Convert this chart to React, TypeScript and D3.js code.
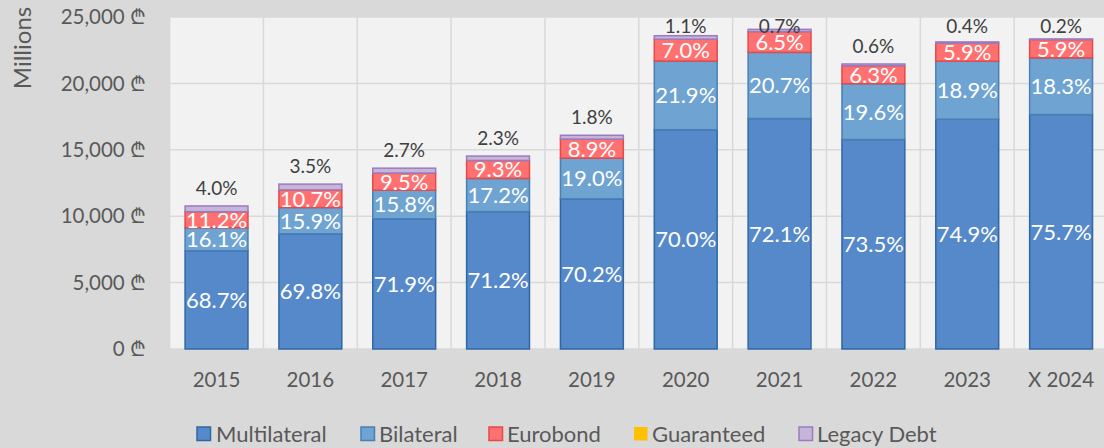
import React from "react";
import * as d3 from "d3";

const categories = ["2015", "2016", "2017", "2018", "2019", "2020", "2021", "2022", "2023", "X 2024"];
const seriesNames = ["Multilateral", "Bilateral", "Eurobond", "Guaranteed", "Legacy Debt"];
const multilateral = [7399, 8676, 9800, 10345, 11309, 16513, 17354, 15773, 17302, 17653];
const bilateral = [1734, 1976, 2154, 2499, 3061, 5166, 4982, 4206, 4366, 4268];
const eurobond = [1206, 1330, 1295, 1351, 1434, 1651, 1565, 1352, 1363, 1376];
const guaranteed = [0, 0, 0, 0, 0, 0, 0, 0, 0, 0];
const legacy = [431, 435, 368, 334, 290, 259, 168, 129, 92, 47];

const multiLabels = ["68.7%", "69.8%", "71.9%", "71.2%", "70.2%", "70.0%", "72.1%", "73.5%", "74.9%", "75.7%"];
const biLabels = ["16.1%", "15.9%", "15.8%", "17.2%", "19.0%", "21.9%", "20.7%", "19.6%", "18.9%", "18.3%"];
const euroLabels = ["11.2%", "10.7%", "9.5%", "9.3%", "8.9%", "7.0%", "6.5%", "6.3%", "5.9%", "5.9%"];
const legacyLabels = ["4.0%", "3.5%", "2.7%", "2.3%", "1.8%", "1.1%", "0.7%", "0.6%", "0.4%", "0.2%"];
const yTicks = [0, 5000, 10000, 15000, 20000, 25000];

const fills = ["#5689C9", "#6EA3D2", "#FF7171", "#FFC000", "#C6B5D8"];
const strokes = ["#2F67A3", "#4A80B6", "#E34A4A", "#FFC000", "#9A7CBE"];

const FONT = "Lato, 'DejaVu Sans', sans-serif";

export default function App() {
  const W = 1104, H = 448;
  const plotLeft = 170, plotTop = 17, plotBottom = 349;
  const x = d3.scaleBand<string>().domain(categories).range([169.6, 1108]).paddingInner(0.33).paddingOuter(0.165);
  const y = d3.scaleLinear().domain([0, 25000]).range([plotBottom, plotTop]);
  const step = x.step();
  const gap = (step - x.bandwidth()) / 2;

  const rows = categories.map((c, i) => ({
    cat: c,
    Multilateral: multilateral[i],
    Bilateral: bilateral[i],
    Eurobond: eurobond[i],
    Guaranteed: guaranteed[i],
    "Legacy Debt": legacy[i],
  }));
  const stacked = d3.stack<any>().keys(seriesNames)(rows);
  const labelSets = [multiLabels, biLabels, euroLabels, null, null];
  const fmt = d3.format(",");

  const legendItems = [
    { name: "Multilateral", sx: 197, tx: 216 },
    { name: "Bilateral", sx: 361, tx: 379 },
    { name: "Eurobond", sx: 489, tx: 507 },
    { name: "Guaranteed", sx: 634, tx: 652 },
    { name: "Legacy Debt", sx: 799, tx: 817 },
  ];

  return (
    <svg width={W} height={H} style={{ position: "absolute", left: 0, top: 0 }} fontFamily={FONT}>
      <rect x={0} y={0} width={W} height={H} fill="#D9D9D9" />
      <rect x={plotLeft} y={plotTop} width={W - plotLeft} height={plotBottom - plotTop} fill="#F2F2F2" />
      {yTicks.map((t) => (
        <line key={"g" + t} x1={plotLeft} x2={W} y1={y(t)} y2={y(t)} stroke="#D9D9D9" strokeWidth={1.5} />
      ))}
      {categories.map((c) => (
        <line key={"v" + c} x1={(x(c) as number) - gap} x2={(x(c) as number) - gap} y1={plotTop} y2={plotBottom} stroke="#D9D9D9" strokeWidth={1.5} />
      ))}
      {yTicks.map((t) => (
        <text key={"t" + t} x={146} y={y(t)} dy="0.35em" textAnchor="end" fontSize={20.5} fill="#595959">
          {fmt(t) + " \u20BE"}
        </text>
      ))}
      <text transform="translate(23,48) rotate(-90)" textAnchor="middle" dy="0.35em" fontSize={24} fill="#595959">
        Millions
      </text>
      {stacked.map((s, si) => (
        <g key={s.key}>
          {s.map((d, i) => {
            const h = y(d[0]) - y(d[1]);
            if (h <= 0) return null;
            return (
              <rect key={i} x={x(categories[i])} y={y(d[1])} width={x.bandwidth()} height={h}
                fill={fills[si]} stroke={strokes[si]} strokeWidth={1.5} />
            );
          })}
        </g>
      ))}
      {stacked.map((s, si) => {
        const labels = labelSets[si];
        if (!labels) return null;
        return (
          <g key={"l" + s.key}>
            {s.map((d, i) => (
              <text key={i} x={(x(categories[i]) as number) + x.bandwidth() / 2} y={(y(d[0]) + y(d[1])) / 2}
                dy="0.36em" textAnchor="middle" fontSize={22} fill="#FFFFFF">
                {labels[i]}
              </text>
            ))}
          </g>
        );
      })}
      {stacked[4].map((d, i) => (
        <text key={"lg" + i} x={(x(categories[i]) as number) + x.bandwidth() / 2}
          y={Math.max(y(d[1]) - 18, 26)} dy="0.36em" textAnchor="middle" fontSize={19} fill="#404040">
          {legacyLabels[i]}
        </text>
      ))}
      {categories.map((c) => (
        <text key={"x" + c} x={(x(c) as number) + x.bandwidth() / 2} y={380} dy="0.36em" textAnchor="middle" fontSize={20.5} fill="#595959">
          {c}
        </text>
      ))}
      {legendItems.map((it, i) => (
        <g key={it.name}>
          <rect x={it.sx} y={427} width={13.5} height={13.5} fill={fills[i]} stroke={i === 3 ? "none" : strokes[i]} strokeWidth={1.5} />
          <text x={it.tx} y={434} dy="0.36em" fontSize={22} fill="#595959">{it.name}</text>
        </g>
      ))}
    </svg>
  );
}
